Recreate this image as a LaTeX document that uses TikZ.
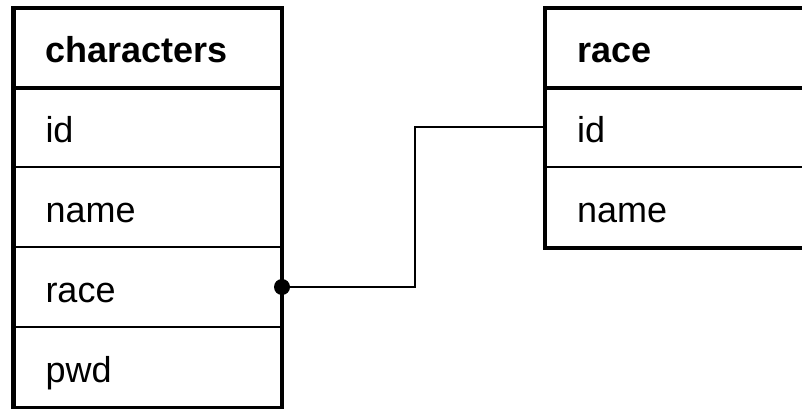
\documentclass[tikz,border=0pt]{standalone}
\usepackage{fontspec}
\setmainfont{Liberation Sans}
\begin{document}
\begin{tikzpicture}[x=1pt,y=-1pt,
  cell/.style={draw=black, line width=2pt, rectangle, anchor=north west,
    minimum width=266.5pt, minimum height=80pt, text width=204.5pt,
    inner xsep=31pt, inner ysep=0pt, align=left,
    text height=30pt, text depth=0pt,
    font=\fontsize{36}{43}\selectfont},
  head/.style={cell, minimum height=78pt, font=\fontsize{36}{43}\selectfont\bfseries},
  outer/.style={line width=4.5pt},
  link/.style={line width=2pt}]
\useasboundingbox (0,0) rectangle (802,409);
% left table
\node[head] (ch) at (13.5,8) {characters};
\node[cell] (cid) at (13.5,86) {id};
\node[cell] (cname) at (13.5,166) {name};
\node[cell] (crace) at (13.5,246) {race};
\node[cell] (cpwd) at (13.5,326) {pwd};
\draw[outer] (ch.north west) rectangle (cpwd.south east);
\draw[outer] (ch.south west) -- (ch.south east);
% right table
\node[head] (rh) at (545,8) {race};
\node[cell] (rid) at (545,86) {id};
\node[cell] (rname) at (545,166) {name};
\draw[outer] (rh.north west) rectangle (rname.south east);
\draw[outer] (rh.south west) -- (rh.south east);
% connector
\draw[link] (crace.east) -- ++(133,0) |- (rid.west);
\fill (crace.east) circle (8pt);
\end{tikzpicture}
\end{document}
